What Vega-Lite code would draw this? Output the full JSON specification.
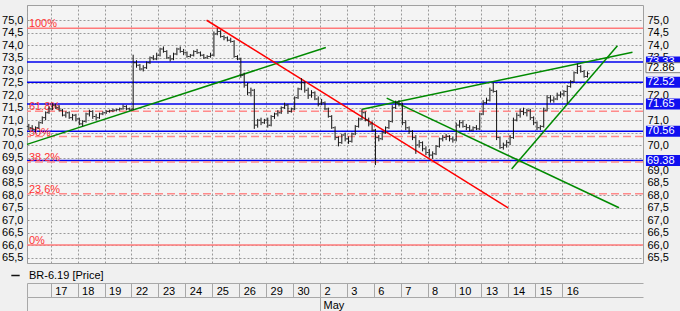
{
  "$schema": "https://vega.github.io/schema/vega-lite/v6.json",
  "width": 616,
  "height": 258,
  "autosize": "none",
  "padding": {"left": 27, "top": 5, "right": 37, "bottom": 48},
  "background": "#f0f0f0",
  "config": {
    "font": "Liberation Sans",
    "view": {"stroke": "#a0a0a0", "fill": "#f4f4f4"},
    "axis": {"labelFont": "Liberation Sans", "labelFontSize": 11, "labelColor": "#000000", "titleFont": "Liberation Sans"}
  },
  "datasets": {
    "ohlc": [
      {"t":0.1875,"o":70.75,"h":70.85,"l":70.6,"c":70.7},
      {"t":0.3125,"o":70.7,"h":70.8,"l":70.55,"c":70.62},
      {"t":0.4375,"o":70.62,"h":70.75,"l":70.5,"c":70.7},
      {"t":0.5625,"o":70.7,"h":70.95,"l":70.65,"c":70.9},
      {"t":0.6875,"o":70.9,"h":71.15,"l":70.85,"c":71.1},
      {"t":0.8125,"o":71.1,"h":71.35,"l":71.0,"c":71.3},
      {"t":0.9375,"o":71.3,"h":71.55,"l":71.25,"c":71.45},
      {"t":1.0625,"o":71.45,"h":71.68,"l":71.4,"c":71.6},
      {"t":1.1875,"o":71.6,"h":71.65,"l":71.45,"c":71.5},
      {"t":1.3125,"o":71.5,"h":71.6,"l":71.35,"c":71.4},
      {"t":1.4375,"o":71.4,"h":71.45,"l":71.15,"c":71.2},
      {"t":1.5625,"o":71.2,"h":71.35,"l":71.1,"c":71.3},
      {"t":1.6875,"o":71.3,"h":71.35,"l":71.05,"c":71.1},
      {"t":1.8125,"o":71.1,"h":71.25,"l":71.0,"c":71.2},
      {"t":1.9375,"o":71.2,"h":71.25,"l":70.95,"c":71.05},
      {"t":2.0625,"o":71.05,"h":71.1,"l":70.8,"c":70.85},
      {"t":2.1875,"o":70.85,"h":71.0,"l":70.75,"c":70.95},
      {"t":2.3125,"o":70.95,"h":71.3,"l":70.9,"c":71.25},
      {"t":2.4375,"o":71.25,"h":71.42,"l":71.15,"c":71.35},
      {"t":2.5625,"o":71.35,"h":71.4,"l":71.05,"c":71.15},
      {"t":2.6875,"o":71.15,"h":71.25,"l":71.0,"c":71.1},
      {"t":2.8125,"o":71.1,"h":71.3,"l":71.05,"c":71.25},
      {"t":2.9375,"o":71.25,"h":71.35,"l":71.2,"c":71.3},
      {"t":3.0625,"o":71.3,"h":71.4,"l":71.25,"c":71.35},
      {"t":3.1875,"o":71.35,"h":71.42,"l":71.3,"c":71.38},
      {"t":3.3125,"o":71.38,"h":71.45,"l":71.32,"c":71.4},
      {"t":3.4375,"o":71.4,"h":71.45,"l":71.35,"c":71.42},
      {"t":3.5625,"o":71.42,"h":71.5,"l":71.38,"c":71.45},
      {"t":3.6875,"o":71.45,"h":71.62,"l":71.42,"c":71.55},
      {"t":3.8125,"o":71.55,"h":71.6,"l":71.4,"c":71.45},
      {"t":3.9375,"o":71.45,"h":71.5,"l":71.38,"c":71.42},
      {"t":4.0625,"o":71.45,"h":73.62,"l":71.4,"c":73.3},
      {"t":4.1875,"o":73.3,"h":73.4,"l":73.1,"c":73.2},
      {"t":4.3125,"o":73.2,"h":73.25,"l":73.0,"c":73.05},
      {"t":4.4375,"o":73.05,"h":73.2,"l":72.95,"c":73.1},
      {"t":4.5625,"o":73.1,"h":73.35,"l":73.05,"c":73.3},
      {"t":4.6875,"o":73.3,"h":73.55,"l":73.25,"c":73.5},
      {"t":4.8125,"o":73.5,"h":73.6,"l":73.4,"c":73.45},
      {"t":4.9375,"o":73.45,"h":73.7,"l":73.4,"c":73.6},
      {"t":5.0625,"o":73.6,"h":73.9,"l":73.55,"c":73.85},
      {"t":5.1875,"o":73.85,"h":73.95,"l":73.7,"c":73.75},
      {"t":5.3125,"o":73.75,"h":73.8,"l":73.45,"c":73.5},
      {"t":5.4375,"o":73.5,"h":73.6,"l":73.35,"c":73.45},
      {"t":5.5625,"o":73.45,"h":73.7,"l":73.4,"c":73.65},
      {"t":5.6875,"o":73.65,"h":73.9,"l":73.6,"c":73.85},
      {"t":5.8125,"o":73.85,"h":73.95,"l":73.7,"c":73.75},
      {"t":5.9375,"o":73.75,"h":73.85,"l":73.6,"c":73.7},
      {"t":6.0625,"o":73.7,"h":73.75,"l":73.5,"c":73.55},
      {"t":6.1875,"o":73.55,"h":73.65,"l":73.5,"c":73.6},
      {"t":6.3125,"o":73.6,"h":73.8,"l":73.55,"c":73.75},
      {"t":6.4375,"o":73.75,"h":73.85,"l":73.65,"c":73.7},
      {"t":6.5625,"o":73.7,"h":73.75,"l":73.55,"c":73.6},
      {"t":6.6875,"o":73.6,"h":73.65,"l":73.45,"c":73.5},
      {"t":6.8125,"o":73.5,"h":73.6,"l":73.45,"c":73.55},
      {"t":6.9375,"o":73.55,"h":73.7,"l":73.5,"c":73.6},
      {"t":7.0625,"o":73.6,"h":74.55,"l":73.55,"c":74.45},
      {"t":7.1875,"o":74.45,"h":74.68,"l":74.4,"c":74.55},
      {"t":7.3125,"o":74.55,"h":74.6,"l":74.3,"c":74.35},
      {"t":7.4375,"o":74.35,"h":74.4,"l":74.2,"c":74.3},
      {"t":7.5625,"o":74.3,"h":74.35,"l":74.15,"c":74.2},
      {"t":7.6875,"o":74.2,"h":74.3,"l":74.1,"c":74.15},
      {"t":7.8125,"o":74.15,"h":74.2,"l":73.5,"c":73.55},
      {"t":7.9375,"o":73.55,"h":73.6,"l":73.4,"c":73.45},
      {"t":8.0625,"o":73.45,"h":73.5,"l":72.7,"c":72.8},
      {"t":8.1875,"o":72.8,"h":72.9,"l":72.3,"c":72.4},
      {"t":8.3125,"o":72.4,"h":72.5,"l":72.0,"c":72.1},
      {"t":8.4375,"o":72.1,"h":72.3,"l":71.95,"c":72.2},
      {"t":8.5625,"o":72.2,"h":72.25,"l":70.65,"c":70.8},
      {"t":8.6875,"o":70.8,"h":71.05,"l":70.7,"c":71.0},
      {"t":8.8125,"o":71.0,"h":71.1,"l":70.8,"c":70.9},
      {"t":8.9375,"o":70.9,"h":71.05,"l":70.85,"c":71.0},
      {"t":9.0625,"o":71.0,"h":71.1,"l":70.7,"c":70.8},
      {"t":9.1875,"o":70.8,"h":71.2,"l":70.75,"c":71.15},
      {"t":9.3125,"o":71.15,"h":71.3,"l":71.05,"c":71.25},
      {"t":9.4375,"o":71.25,"h":71.4,"l":71.15,"c":71.3},
      {"t":9.5625,"o":71.3,"h":71.55,"l":71.25,"c":71.5},
      {"t":9.6875,"o":71.5,"h":71.7,"l":71.45,"c":71.6},
      {"t":9.8125,"o":71.6,"h":71.65,"l":71.25,"c":71.35},
      {"t":9.9375,"o":71.35,"h":71.5,"l":71.3,"c":71.45},
      {"t":10.0625,"o":71.45,"h":71.95,"l":71.4,"c":71.9},
      {"t":10.1875,"o":71.9,"h":72.3,"l":71.85,"c":72.25},
      {"t":10.3125,"o":72.25,"h":72.68,"l":72.2,"c":72.5},
      {"t":10.4375,"o":72.5,"h":72.55,"l":72.1,"c":72.2},
      {"t":10.5625,"o":72.2,"h":72.3,"l":71.85,"c":72.0},
      {"t":10.6875,"o":72.0,"h":72.2,"l":71.9,"c":72.1},
      {"t":10.8125,"o":72.1,"h":72.15,"l":71.8,"c":71.85},
      {"t":10.9375,"o":71.85,"h":71.95,"l":71.55,"c":71.65},
      {"t":11.0625,"o":71.65,"h":71.85,"l":71.6,"c":71.7},
      {"t":11.1875,"o":71.7,"h":71.75,"l":71.4,"c":71.45},
      {"t":11.3125,"o":71.45,"h":71.5,"l":71.1,"c":71.15},
      {"t":11.4375,"o":71.15,"h":71.2,"l":70.65,"c":70.7},
      {"t":11.5625,"o":70.7,"h":70.75,"l":70.2,"c":70.3},
      {"t":11.6875,"o":70.3,"h":70.35,"l":69.95,"c":70.1},
      {"t":11.8125,"o":70.1,"h":70.45,"l":70.05,"c":70.4},
      {"t":11.9375,"o":70.4,"h":70.5,"l":70.15,"c":70.25},
      {"t":12.0625,"o":70.25,"h":70.35,"l":70.05,"c":70.15},
      {"t":12.1875,"o":70.15,"h":70.5,"l":70.1,"c":70.45},
      {"t":12.3125,"o":70.45,"h":70.8,"l":70.4,"c":70.75},
      {"t":12.4375,"o":70.75,"h":71.1,"l":70.7,"c":71.05},
      {"t":12.5625,"o":71.05,"h":71.45,"l":71.0,"c":71.3},
      {"t":12.6875,"o":71.3,"h":71.35,"l":70.95,"c":71.0},
      {"t":12.8125,"o":71.0,"h":71.1,"l":70.75,"c":70.85},
      {"t":12.9375,"o":70.85,"h":70.95,"l":70.55,"c":70.6},
      {"t":13.0625,"o":70.6,"h":70.65,"l":69.2,"c":70.3},
      {"t":13.1875,"o":70.3,"h":70.4,"l":70.15,"c":70.25},
      {"t":13.3125,"o":70.25,"h":70.55,"l":70.2,"c":70.5},
      {"t":13.4375,"o":70.5,"h":70.75,"l":70.45,"c":70.7},
      {"t":13.5625,"o":70.7,"h":71.0,"l":70.65,"c":70.95},
      {"t":13.6875,"o":70.95,"h":71.6,"l":70.9,"c":71.5},
      {"t":13.8125,"o":71.5,"h":71.78,"l":71.45,"c":71.7},
      {"t":13.9375,"o":71.7,"h":71.8,"l":71.55,"c":71.65},
      {"t":14.0625,"o":71.65,"h":71.7,"l":70.8,"c":70.9},
      {"t":14.1875,"o":70.9,"h":71.0,"l":70.6,"c":70.7},
      {"t":14.3125,"o":70.7,"h":70.75,"l":70.45,"c":70.55},
      {"t":14.4375,"o":70.55,"h":70.6,"l":70.2,"c":70.3},
      {"t":14.5625,"o":70.3,"h":70.4,"l":69.65,"c":70.0},
      {"t":14.6875,"o":70.0,"h":70.2,"l":69.9,"c":70.1},
      {"t":14.8125,"o":70.1,"h":70.15,"l":69.75,"c":69.85},
      {"t":14.9375,"o":69.85,"h":69.95,"l":69.6,"c":69.7},
      {"t":15.0625,"o":69.7,"h":69.85,"l":69.5,"c":69.6},
      {"t":15.1875,"o":69.6,"h":69.75,"l":69.45,"c":69.65},
      {"t":15.3125,"o":69.65,"h":70.0,"l":69.6,"c":69.95},
      {"t":15.4375,"o":69.95,"h":70.3,"l":69.9,"c":70.25},
      {"t":15.5625,"o":70.25,"h":70.4,"l":70.15,"c":70.3},
      {"t":15.6875,"o":70.3,"h":70.45,"l":70.2,"c":70.35},
      {"t":15.8125,"o":70.35,"h":70.4,"l":70.15,"c":70.25},
      {"t":15.9375,"o":70.25,"h":70.35,"l":70.1,"c":70.2},
      {"t":16.0625,"o":70.2,"h":70.9,"l":70.15,"c":70.8},
      {"t":16.1875,"o":70.8,"h":71.0,"l":70.7,"c":70.9},
      {"t":16.3125,"o":70.9,"h":71.0,"l":70.7,"c":70.75},
      {"t":16.4375,"o":70.75,"h":70.85,"l":70.6,"c":70.7},
      {"t":16.5625,"o":70.7,"h":70.8,"l":70.55,"c":70.6},
      {"t":16.6875,"o":70.6,"h":70.75,"l":70.55,"c":70.7},
      {"t":16.8125,"o":70.7,"h":70.8,"l":70.6,"c":70.65},
      {"t":16.9375,"o":70.65,"h":71.3,"l":70.6,"c":71.25},
      {"t":17.0625,"o":71.25,"h":71.8,"l":71.2,"c":71.7},
      {"t":17.1875,"o":71.7,"h":71.9,"l":71.65,"c":71.8},
      {"t":17.3125,"o":71.8,"h":72.3,"l":71.75,"c":72.2},
      {"t":17.4375,"o":72.2,"h":72.5,"l":72.1,"c":72.15},
      {"t":17.5625,"o":72.15,"h":72.2,"l":70.2,"c":70.3},
      {"t":17.6875,"o":70.3,"h":70.35,"l":69.85,"c":69.9},
      {"t":17.8125,"o":69.9,"h":70.1,"l":69.82,"c":70.0},
      {"t":17.9375,"o":70.0,"h":70.2,"l":69.9,"c":70.1},
      {"t":18.0625,"o":70.1,"h":70.4,"l":70.0,"c":70.3},
      {"t":18.1875,"o":70.3,"h":71.1,"l":70.25,"c":71.0},
      {"t":18.3125,"o":71.0,"h":71.3,"l":70.95,"c":71.2},
      {"t":18.4375,"o":71.2,"h":71.45,"l":71.1,"c":71.35},
      {"t":18.5625,"o":71.35,"h":71.5,"l":71.2,"c":71.3},
      {"t":18.6875,"o":71.3,"h":71.45,"l":71.15,"c":71.4},
      {"t":18.8125,"o":71.4,"h":71.45,"l":71.0,"c":71.1},
      {"t":18.9375,"o":71.1,"h":71.15,"l":70.8,"c":70.9},
      {"t":19.0625,"o":70.9,"h":70.95,"l":70.6,"c":70.7},
      {"t":19.1875,"o":70.7,"h":70.8,"l":70.6,"c":70.75},
      {"t":19.3125,"o":70.75,"h":71.5,"l":70.7,"c":71.4},
      {"t":19.4375,"o":71.4,"h":72.0,"l":71.35,"c":71.9},
      {"t":19.5625,"o":71.9,"h":72.0,"l":71.7,"c":71.8},
      {"t":19.6875,"o":71.8,"h":71.95,"l":71.7,"c":71.85},
      {"t":19.8125,"o":71.85,"h":72.1,"l":71.8,"c":72.0},
      {"t":19.9375,"o":72.0,"h":72.15,"l":71.9,"c":72.05},
      {"t":20.0625,"o":72.05,"h":72.2,"l":71.95,"c":72.15},
      {"t":20.1875,"o":72.15,"h":72.4,"l":71.65,"c":72.35},
      {"t":20.3125,"o":72.35,"h":72.6,"l":72.3,"c":72.55},
      {"t":20.4375,"o":72.55,"h":72.95,"l":72.5,"c":72.9},
      {"t":20.5625,"o":72.9,"h":73.26,"l":72.85,"c":73.15},
      {"t":20.6875,"o":73.15,"h":73.2,"l":72.9,"c":72.95},
      {"t":20.8125,"o":72.95,"h":73.0,"l":72.7,"c":72.75},
      {"t":20.9375,"o":72.75,"h":72.95,"l":72.7,"c":72.86}
    ],
    "levels": [
      {"level": 73.33, "kind": "blue", "label": "73.33"},
      {"level": 72.52, "kind": "blue", "label": "72.52"},
      {"level": 71.65, "kind": "blue", "label": "71.65"},
      {"level": 70.56, "kind": "blue", "label": "70.56"},
      {"level": 69.38, "kind": "blue", "label": "69.38"},
      {"level": 74.68, "kind": "fib", "label": "100%"},
      {"level": 66.0, "kind": "fib", "label": "0%"},
      {"level": 71.36, "kind": "fibd", "label": "61.8%"},
      {"level": 70.34, "kind": "fibd", "label": "50%"},
      {"level": 69.32, "kind": "fibd", "label": "38.2%"},
      {"level": 68.05, "kind": "fibd", "label": "23.6%"}
    ],
    "last": [{"level": 72.86, "label": "72.86"}],
    "trend": [
      {"line": "g1", "color": "green", "t": 0.12, "v": 70.03},
      {"line": "g1", "color": "green", "t": 11.22, "v": 73.91},
      {"line": "r1", "color": "red", "t": 6.79, "v": 75.0},
      {"line": "r1", "color": "red", "t": 17.99, "v": 67.49},
      {"line": "g2", "color": "green", "t": 12.57, "v": 71.44},
      {"line": "g2", "color": "green", "t": 22.61, "v": 73.72},
      {"line": "g3", "color": "green", "t": 13.48, "v": 71.88},
      {"line": "g3", "color": "green", "t": 22.11, "v": 67.49},
      {"line": "g4", "color": "green", "t": 18.12, "v": 69.04},
      {"line": "g4", "color": "green", "t": 22.05, "v": 73.98}
    ]
  },
  "resolve": {"axis": {"x": "independent", "y": "independent"}},
  "layer": [
    {
      "data": {"name": "levels"},
      "transform": [{"filter": "datum.kind == 'blue'"}],
      "mark": {"type": "rule", "color": "#0000ee", "strokeWidth": 1.5},
      "encoding": {
        "y": {
          "field": "level", "type": "quantitative",
          "scale": {"domain": [65.48, 75.41], "nice": false, "zero": false},
          "axis": {
            "orient": "right", "zindex": 0, "grid": false, "ticks": false, "domain": false,
            "values": [65.5, 66, 66.5, 67, 67.5, 68, 68.5, 69, 70, 71, 72, 73.5, 74, 74.5, 75],
            "labelPadding": 4, "labelExpr": "replace(format(datum.value, '.1f'), '.', ',')", "title": null
          }
        }
      }
    },
    {
      "data": {"name": "levels"},
      "transform": [{"filter": "datum.kind == 'fib'"}],
      "mark": {"type": "rule", "color": "#ff7a7a", "strokeWidth": 1.5},
      "encoding": {"y": {"field": "level", "type": "quantitative", "axis": null}}
    },
    {
      "data": {"name": "levels"},
      "transform": [{"filter": "datum.kind == 'fibd'"}],
      "mark": {"type": "rule", "color": "#ff8a8a", "strokeWidth": 1.5, "strokeDash": [8, 4]},
      "encoding": {"y": {"field": "level", "type": "quantitative", "axis": null}}
    },
    {
      "data": {"name": "levels"},
      "transform": [{"filter": "datum.kind != 'blue'"}],
      "mark": {"type": "text", "color": "#ff3333", "fontSize": 11, "align": "left", "baseline": "alphabetic", "dy": -1},
      "encoding": {
        "x": {"datum": 0.19, "type": "quantitative", "axis": null},
        "y": {"field": "level", "type": "quantitative", "axis": null},
        "text": {"field": "label"}
      }
    },
    {
      "data": {"name": "trend"},
      "transform": [{"filter": "datum.color == 'green'"}],
      "mark": {"type": "line", "color": "#008a00", "strokeWidth": 1.5},
      "encoding": {
        "x": {
          "field": "t", "type": "quantitative",
          "scale": {"domain": [0.12, 23.0], "nice": false, "zero": false},
          "axis": {
            "orient": "bottom", "offset": 34, "values": [0.12, 11], "grid": false,
            "tickSize": 14, "tickColor": "#a8a8a8", "domainColor": "#a8a8a8", "labels": false,
            "title": "May", "titleFontWeight": "normal", "titleFontSize": 11, "titleColor": "#000000",
            "titleAlign": "left", "titleBaseline": "middle", "titleX": 296, "titleY": 8, "titleAnchor": null
          }
        },
        "y": {"field": "v", "type": "quantitative", "axis": null},
        "detail": {"field": "line"}
      }
    },
    {
      "data": {"name": "trend"},
      "transform": [{"filter": "datum.color == 'red'"}],
      "mark": {"type": "line", "color": "#ff0000", "strokeWidth": 1.5},
      "encoding": {
        "x": {"field": "t", "type": "quantitative", "axis": null},
        "y": {"field": "v", "type": "quantitative", "axis": null},
        "detail": {"field": "line"}
      }
    },
    {
      "data": {"name": "ohlc"},
      "mark": {"type": "rule", "strokeWidth": 1},
      "encoding": {
        "x": {
          "field": "t", "type": "quantitative",
          "axis": {
            "orient": "bottom", "offset": 20, "values": [0.12, 1, 2, 3, 4, 5, 6, 7, 8, 9, 10, 11, 12, 13, 14, 15, 16, 17, 18, 19, 20],
            "grid": true, "gridDash": [2, 2], "gridColor": "#9a9a9a",
            "tickSize": 14, "tickColor": "#a8a8a8", "domainColor": "#a8a8a8",
            "labelAlign": "left", "labelBaseline": "top", "labelPadding": -12, "labelOffset": 4,
            "labelExpr": "datum.value >= 1 ? ['16','17','18','19','22','23','24','25','26','29','30','2','3','6','7','8','10','13','14','15','16'][round(datum.value)] : ''",
            "title": null
          }
        },
        "y": {
          "field": "l", "type": "quantitative",
          "axis": {
            "orient": "left", "grid": true, "gridDash": [2, 2], "gridColor": "#9a9a9a", "ticks": false, "domain": false,
            "values": [65.5, 66, 66.5, 67, 67.5, 68, 68.5, 69, 69.5, 70, 70.5, 71, 71.5, 72, 72.5, 73, 73.5, 74, 74.5, 75],
            "labelPadding": 4, "labelExpr": "replace(format(datum.value, '.1f'), '.', ',')", "title": null
          }
        },
        "y2": {"field": "h"},
        "color": {
          "datum": "BR-6.19 [Price]", "type": "nominal",
          "scale": {"range": ["#111111"]},
          "legend": {
            "orient": "none", "legendX": -17, "legendY": 265, "title": null,
            "symbolType": "stroke", "symbolStrokeColor": "#707070", "symbolStrokeWidth": 1.5, "symbolSize": 70,
            "labelFontSize": 11, "labelFont": "Liberation Sans", "labelColor": "#000000", "labelOffset": 8
          }
        }
      }
    },
    {
      "data": {"name": "ohlc"},
      "mark": {"type": "tick", "orient": "horizontal", "size": 1.6, "thickness": 1, "color": "#111111", "xOffset": -1.3},
      "encoding": {
        "x": {"field": "t", "type": "quantitative", "axis": null},
        "y": {"field": "o", "type": "quantitative", "axis": null}
      }
    },
    {
      "data": {"name": "ohlc"},
      "mark": {"type": "tick", "orient": "horizontal", "size": 1.6, "thickness": 1, "color": "#111111", "xOffset": 1.3},
      "encoding": {
        "x": {"field": "t", "type": "quantitative", "axis": null},
        "y": {"field": "c", "type": "quantitative", "axis": null}
      }
    },
    {
      "data": {"name": "levels"},
      "transform": [{"filter": "datum.kind == 'blue'"}],
      "mark": {"type": "bar", "height": 11, "color": "#1010f0", "clip": false},
      "encoding": {
        "x": {"datum": 23.11, "type": "quantitative", "axis": null},
        "x2": {"datum": 24.6},
        "y": {"field": "level", "type": "quantitative", "axis": null}
      }
    },
    {
      "data": {"name": "levels"},
      "transform": [{"filter": "datum.kind == 'blue'"}],
      "mark": {"type": "text", "color": "#ffffff", "fontSize": 11, "align": "left", "baseline": "middle", "dx": 4},
      "encoding": {
        "x": {"datum": 23.0, "type": "quantitative", "axis": null},
        "y": {"field": "level", "type": "quantitative", "axis": null},
        "text": {"field": "label"}
      }
    },
    {
      "data": {"name": "last"},
      "mark": {"type": "bar", "height": 10, "color": "#f8f8f8", "stroke": "#808080", "strokeWidth": 1, "yOffset": -6, "clip": false},
      "encoding": {
        "x": {"datum": 23.11, "type": "quantitative", "axis": null},
        "x2": {"datum": 24.6},
        "y": {"field": "level", "type": "quantitative", "axis": null}
      }
    },
    {
      "data": {"name": "last"},
      "mark": {"type": "text", "color": "#000000", "fontSize": 11, "align": "left", "baseline": "middle", "dx": 4, "dy": -6},
      "encoding": {
        "x": {"datum": 23.0, "type": "quantitative", "axis": null},
        "y": {"field": "level", "type": "quantitative", "axis": null},
        "text": {"field": "label"}
      }
    }
  ]
}
